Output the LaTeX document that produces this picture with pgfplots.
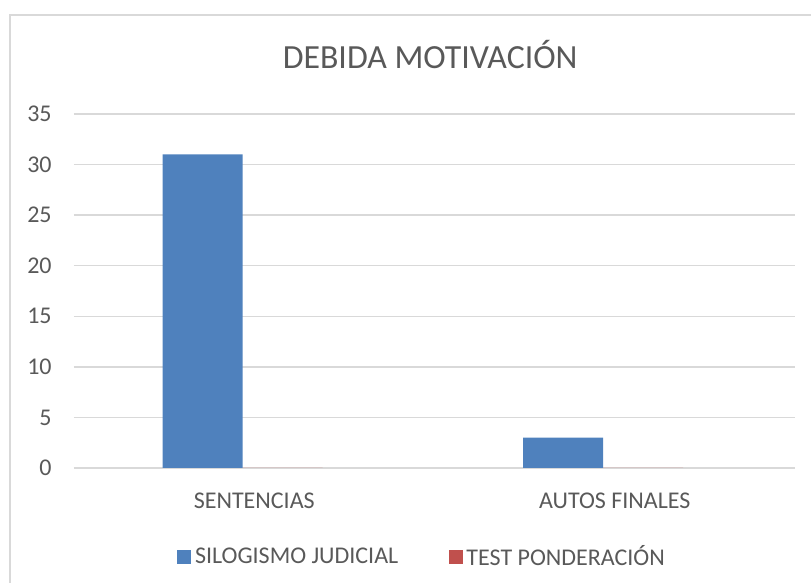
\documentclass[border=0pt]{standalone}
\usepackage{fontspec}
\setmainfont{Carlito}
\usepackage{pgfplots}
\pgfplotsset{compat=1.18}
\definecolor{txt}{HTML}{595959}
\definecolor{gridc}{HTML}{D9D9D9}
\definecolor{sblue}{HTML}{4F81BD}
\definecolor{sred}{HTML}{C0504D}
\begin{document}
\begin{tikzpicture}
\path[use as bounding box] (0,0) rectangle (405.5pt,291.5pt);
\draw[gridc, line width=0.75pt] (5pt,0pt) -- (5pt,284pt) -- (405.5pt,284pt);
\begin{axis}[
  at={(37pt,57.5pt)}, anchor=south west,
  scale only axis, width=360.5pt, height=177pt,
  ybar,
  xmin=-0.5, xmax=1.5, ymin=0, ymax=35,
  xtick={0,1}, xticklabels={SENTENCIAS, AUTOS FINALES},
  ytick={0,5,...,35},
  /pgf/number format/assume math mode=true,
  axis line style={draw=none},
  major tick length=0pt,
  ymajorgrids, grid style={gridc, line width=0.75pt},
  tick label style={font=\fontsize{12}{14}\selectfont, text=txt},
  yticklabel style={anchor=east, inner sep=0pt, xshift=-11pt},
  xticklabel style={anchor=base, inner sep=0pt, yshift=-20.5pt},
  title={DEBIDA MOTIVACIÓN},
  title style={at={(0.494,1)}, anchor=base, yshift=16.5pt, font=\fontsize{16.9}{20}\selectfont, text=txt},
  legend columns=2,
  legend style={at={(0.1429,-0.252)}, anchor=west, draw=none, fill=none, inner sep=0pt,
    font=\fontsize{12}{14}\selectfont, text=txt, nodes={inner sep=1.8pt},
    /tikz/every even column/.append style={column sep=23.5pt}},
  legend image code/.code={\path[#1] (0pt,-3.5pt) rectangle (7pt,3.5pt);},
  clip=false,
]
\addplot[fill=sblue, draw=none, bar width=0.222, bar shift=-0.143] coordinates {(0,31) (1,3)};
\addplot[fill=sred, draw=none, bar width=0.222, bar shift=0.079] coordinates {(0,0) (1,0)};
\legend{SILOGISMO JUDICIAL, TEST PONDERACIÓN}
\end{axis}
\end{tikzpicture}
\end{document}
